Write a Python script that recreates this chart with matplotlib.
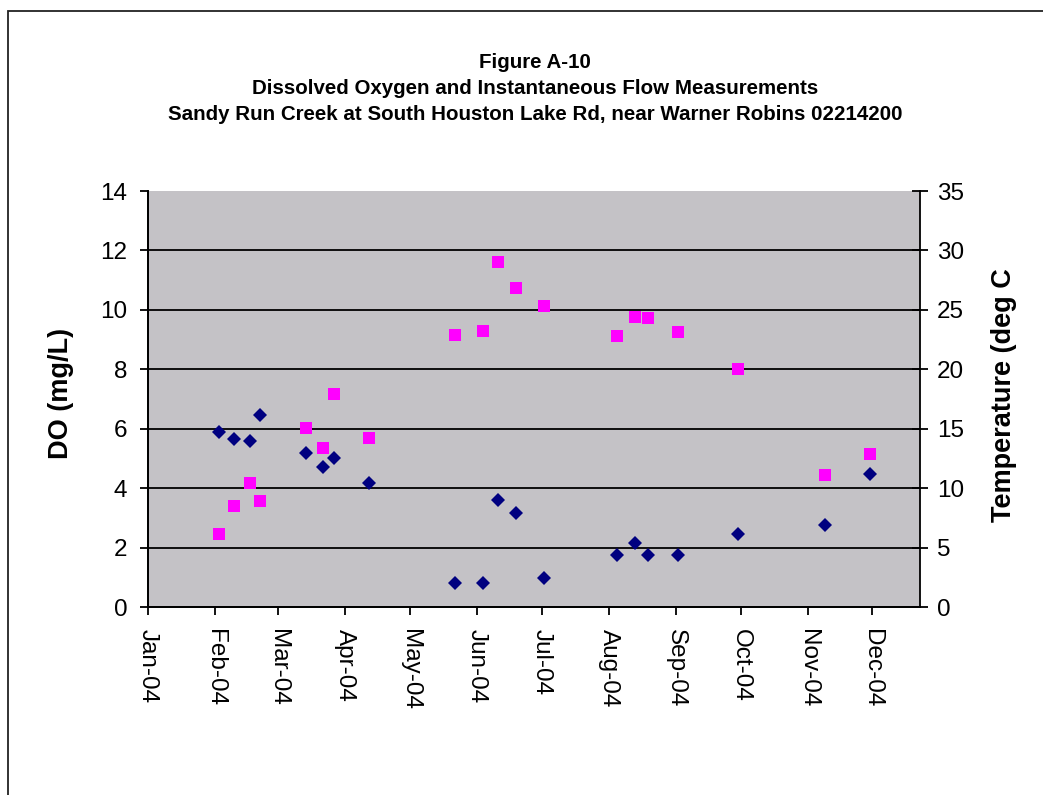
import matplotlib
matplotlib.use('Agg')
import matplotlib.pyplot as plt
import matplotlib.dates as mdates
from matplotlib.patches import Rectangle
from datetime import datetime

# ---- data ----
sample_dates = ['2004-02-03', '2004-02-10', '2004-02-17', '2004-02-22',
                '2004-03-14', '2004-03-22', '2004-03-27', '2004-04-12',
                '2004-05-22', '2004-06-04', '2004-06-11', '2004-06-19',
                '2004-07-02', '2004-08-05', '2004-08-13', '2004-08-19',
                '2004-09-02', '2004-09-30', '2004-11-09', '2004-11-30']
do_values = [5.88, 5.65, 5.60, 6.47, 5.17, 4.70, 5.00, 4.17, 0.81, 0.81,
             3.59, 3.17, 0.99, 1.75, 2.16, 1.75, 1.75, 2.47, 2.76, 4.47]
temp_values = [6.1, 8.5, 10.4, 8.9, 15.1, 13.4, 17.9, 14.2, 22.9, 23.2,
               29.0, 26.8, 25.3, 22.8, 24.4, 24.3, 23.1, 20.0, 11.1, 12.9]
title_lines = ['Figure A-10',
               'Dissolved Oxygen and Instantaneous Flow Measurements',
               'Sandy Run Creek at South Houston Lake Rd, near Warner Robins 02214200']
do_label = 'DO (mg/L)'
temp_label = 'Temperature (deg C'
x_start, x_end = '2004-01-01', '2004-12-23'

dates = [datetime.strptime(d, '%Y-%m-%d') for d in sample_dates]

W, H = 1043, 795
plt.rcParams['font.family'] = ['Liberation Sans', 'DejaVu Sans']
fig = plt.figure(figsize=(W / 100, H / 100), dpi=100)
fig.patch.set_facecolor('white')

L, R, T, B = 148, 920, 191, 607
ax = fig.add_axes([L / W, 1 - B / H, (R - L) / W, (B - T) / H])
ax.set_facecolor('#c4c2c6')
ax2 = ax.twinx()

ax.set_xlim(datetime.strptime(x_start, '%Y-%m-%d'), datetime.strptime(x_end, '%Y-%m-%d'))
ax.set_ylim(0, 14)
ax2.set_ylim(0, 35)
ax.set_yticks(range(0, 15, 2))
ax2.set_yticks(range(0, 36, 5))

for yv in range(2, 14, 2):
    ax.axhline(yv, color='black', lw=1.3, zorder=1)

ax.plot(dates, do_values, linestyle='none', marker='D', ms=7.2,
        color='#000080', mew=0, zorder=3, clip_on=False)
ax2.plot(dates, temp_values, linestyle='none', marker='s', ms=8.5,
         color='#ff00ff', mew=0, zorder=3, clip_on=False)

ax.xaxis.set_major_locator(mdates.MonthLocator())
ax.xaxis.set_major_formatter(mdates.DateFormatter('%b-%y'))

for a in (ax, ax2):
    a.spines['top'].set_visible(False)
    for s in ('left', 'right', 'bottom'):
        a.spines[s].set_linewidth(1.3)
        a.spines[s].set_color('black')
ax.spines['right'].set_visible(False)

ax.tick_params(axis='y', direction='out', length=6, width=1.3, pad=9,
               labelsize=17.5)
ax.tick_params(axis='x', direction='out', length=6, width=1.3, pad=10,
               labelsize=17.5, labelrotation=-90)
for lbl in ax.get_xticklabels():
    lbl.set_va('top')
    lbl.set_ha('center')
ax2.tick_params(axis='y', direction='inout', length=12, width=1.3, pad=6,
                labelsize=17.5)

fig.text(61 / W, 1 - 393 / H, do_label, rotation=90, ha='center', va='center',
         fontsize=19.5, fontweight='bold')
fig.text(1004 / W, 1 - 395 / H, temp_label, rotation=90, ha='center', va='center',
         fontsize=19.5, fontweight='bold')

title_y = [63, 88, 115]
for txt, yy in zip(title_lines, title_y):
    fig.text(535 / W, 1 - yy / H, txt, ha='center', va='center',
             fontsize=14.8, fontweight='bold',
             family=['Liberation Sans Narrow', 'Liberation Sans', 'DejaVu Sans'])

fig.add_artist(Rectangle((7.5 / W, -0.02), 1.1, 1 - 10.5 / H + 0.02,
                         fill=False, lw=1.3, ec='#222222',
                         transform=fig.transFigure))

fig.savefig('out.png', dpi=100)
